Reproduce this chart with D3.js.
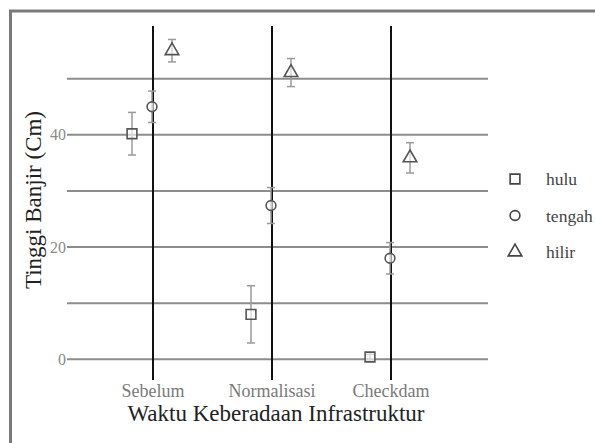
<!DOCTYPE html>
<html><head><meta charset="utf-8">
<script src="https://cdn.jsdelivr.net/npm/d3@7"></script>
<style>body{margin:0;background:#fff}svg{display:block}</style>
</head><body>
<svg id="c" width="595" height="443"></svg>
<script>
const categories = ["Sebelum", "Normalisasi", "Checkdam"];
const series = ["hulu", "tengah", "hilir"];
const hulu = [40.2, 8.0, 0.4];
const huluErr = [3.8, 5.1, 0.5];
const tengah = [45.0, 27.4, 18.0];
const tengahErr = [2.8, 3.2, 2.8];
const hilir = [55.0, 51.1, 35.9];
const hilirErr = [2.0, 2.5, 2.7];
const gridTicks = [0, 10, 20, 30, 40, 50];
const tickLabels = [0, 20, 40];

const values = {hulu, tengah, hilir};
const errs = {hulu: huluErr, tengah: tengahErr, hilir: hilirErr};
const shapes = {hulu: d3.symbolSquare, tengah: d3.symbolCircle, hilir: d3.symbolTriangle};
const sizes = {hulu: 95, tengah: 75, hilir: 80};

const svg = d3.select("#c");
const serif = "'Liberation Serif','DejaVu Serif',serif";

// frame
svg.append("rect").attr("x", 10.5).attr("y", 11).attr("width", 620).attr("height", 460)
  .attr("fill", "none").attr("stroke", "#7a7a7a").attr("stroke-width", 3);

const x = d3.scalePoint().domain(categories).range([153, 391]);
const off = d3.scalePoint().domain(series).range([-21, 19]);
const y = d3.scaleLinear().domain([-3.7, 59.4]).range([380, 26]);

// horizontal gridlines
svg.append("g").selectAll("line").data(gridTicks).join("line")
  .attr("x1", 67).attr("x2", 488)
  .attr("y1", d => y(d)).attr("y2", d => y(d))
  .attr("stroke", "#8c8c8c").attr("stroke-width", 2);

// y tick labels
svg.append("g").selectAll("text").data(tickLabels).join("text")
  .attr("x", 66).attr("y", d => y(d)).attr("dy", "0.35em")
  .attr("text-anchor", "end").attr("font-family", serif).attr("font-size", 16)
  .attr("fill", "#8a8a8a").text(d => d);

// vertical category lines
svg.append("g").selectAll("line").data(categories).join("line")
  .attr("x1", d => x(d)).attr("x2", d => x(d))
  .attr("y1", y.range()[0]).attr("y2", y.range()[1])
  .attr("stroke", "#111").attr("stroke-width", 2);

// category labels
svg.append("g").selectAll("text").data(categories).join("text")
  .attr("x", d => x(d)).attr("y", 397)
  .attr("text-anchor", "middle").attr("font-family", serif).attr("font-size", 18)
  .attr("fill", "#7a7a7a").text(d => d);

// axis titles
svg.append("text").attr("x", 276).attr("y", 421).attr("text-anchor", "middle")
  .attr("font-family", serif).attr("font-size", 23).attr("fill", "#222")
  .text("Waktu Keberadaan Infrastruktur");
svg.append("text").attr("transform", "translate(41,200) rotate(-90)")
  .attr("text-anchor", "middle").attr("font-family", serif).attr("font-size", 23)
  .attr("fill", "#222").text("Tinggi Banjir (Cm)");

// points with error bars
series.forEach(s => {
  const g = svg.append("g");
  const pts = categories.map((c, i) => ({c, v: values[s][i], e: errs[s][i]}));
  const px = d => x(d.c) + off(s);
  g.selectAll("line.eb").data(pts).join("line").attr("class", "eb")
    .attr("x1", px).attr("x2", px)
    .attr("y1", d => y(d.v - d.e)).attr("y2", d => y(d.v + d.e))
    .attr("stroke", "#9a9a9a").attr("stroke-width", 1.5);
  [-1, 1].forEach(k => {
    g.selectAll("line.cap" + (k + 1)).data(pts).join("line").attr("class", "cap" + (k + 1))
      .attr("x1", d => px(d) - 4).attr("x2", d => px(d) + 4)
      .attr("y1", d => y(d.v + k * d.e)).attr("y2", d => y(d.v + k * d.e))
      .attr("stroke", "#9a9a9a").attr("stroke-width", 1.5);
  });
  g.selectAll("path").data(pts).join("path")
    .attr("transform", d => `translate(${px(d)},${y(d.v)})`)
    .attr("d", d3.symbol().type(shapes[s]).size(sizes[s]))
    .attr("fill", "#fff").attr("fill-opacity", 0.6)
    .attr("stroke", "#555").attr("stroke-width", 1.6);
});

// legend
const leg = svg.append("g");
series.forEach((s, i) => {
  const ly = 179 + i * 36.5;
  leg.append("path").attr("transform", `translate(515,${ly})`)
    .attr("d", d3.symbol().type(shapes[s]).size(sizes[s]))
    .attr("fill", "none").attr("stroke", "#444").attr("stroke-width", 1.6);
  leg.append("text").attr("x", 546).attr("y", ly).attr("dy", "0.35em")
    .attr("font-family", serif).attr("font-size", 17.5).attr("fill", "#444")
    .text(s);
});
</script>
</body></html>
